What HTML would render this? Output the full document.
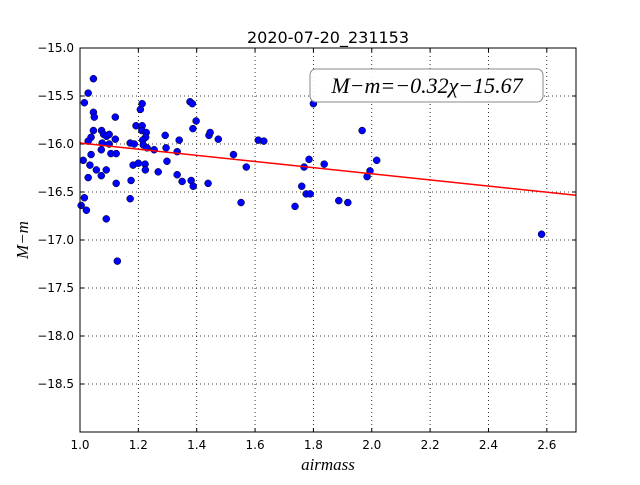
<!DOCTYPE html>
<html><head><meta charset="utf-8"><style>
body{margin:0;background:#fff;}
svg text{font-family:"DejaVu Sans","Liberation Sans",sans-serif;}
</style></head><body>
<svg id="chart" width="640" height="480" xmlns="http://www.w3.org/2000/svg">
<rect width="640" height="480" fill="#fff"/>
<text x="328" y="43" text-anchor="middle" font-size="16">2020-07-20_231153</text>
<g id="grid"></g>
<g id="ticks"></g>
<g id="marks"></g>
<rect x="80" y="48" width="496" height="384" fill="none" stroke="#000" stroke-width="1"/>
<g>
<rect x="310" y="69" width="233" height="33" rx="6" fill="#fff" fill-opacity="0.9" stroke="#888"/>
<text x="427" y="93" text-anchor="middle" style="font-family:'Liberation Serif',serif;font-style:italic;font-size:22px">M−m=−0.32χ−15.67</text>
</g>
<text x="328" y="470" text-anchor="middle" style="font-family:'Liberation Serif',serif;font-style:italic;font-size:17px">airmass</text>
<text x="28" y="240" text-anchor="middle" style="font-family:'Liberation Serif',serif;font-style:italic;font-size:17px" transform="rotate(-90 28 240)">M−m</text>
</svg>
<script>
const airmass=[1.046,1.028,1.015,1.046,1.049,1.121,1.046,1.038,1.028,1.074,1.081,1.091,1.100,1.076,1.100,1.121,1.011,1.038,1.073,1.106,1.124,1.034,1.056,1.090,1.073,1.028,1.124,1.015,1.004,1.022,1.090,1.128,1.172,1.175,1.182,1.200,1.223,1.224,1.172,1.186,1.192,1.213,1.212,1.227,1.225,1.215,1.217,1.230,1.207,1.213,1.254,1.268,1.292,1.295,1.298,1.333,1.340,1.333,1.350,1.377,1.385,1.398,1.387,1.381,1.388,1.439,1.442,1.446,1.474,1.526,1.570,1.552,1.800,1.611,1.630,1.967,1.785,1.768,1.837,1.760,1.775,1.789,1.737,1.887,1.918,2.017,1.994,1.984,2.582];
const mag=[-15.32,-15.47,-15.57,-15.67,-15.72,-15.72,-15.86,-15.93,-15.97,-15.86,-15.90,-15.92,-15.90,-15.99,-16.00,-15.95,-16.17,-16.11,-16.06,-16.10,-16.10,-16.22,-16.27,-16.27,-16.33,-16.35,-16.41,-16.56,-16.64,-16.69,-16.78,-17.22,-16.57,-16.38,-16.22,-16.20,-16.21,-16.27,-15.99,-16.00,-15.81,-15.81,-15.86,-15.88,-15.93,-15.96,-16.01,-16.04,-15.64,-15.58,-16.06,-16.29,-15.91,-16.04,-16.18,-16.08,-15.96,-16.32,-16.39,-15.56,-15.58,-15.76,-15.84,-16.38,-16.44,-16.41,-15.91,-15.88,-15.95,-16.11,-16.24,-16.61,-15.58,-15.96,-15.97,-15.86,-16.16,-16.24,-16.21,-16.44,-16.52,-16.52,-16.65,-16.59,-16.61,-16.17,-16.28,-16.34,-16.94];
const fitSlope=-0.32, fitIntercept=-15.67;
const xTicks=[1.0,1.2,1.4,1.6,1.8,2.0,2.2,2.4,2.6];
const yTicks=[-15.0,-15.5,-16.0,-16.5,-17.0,-17.5,-18.0,-18.5];
const xMin=1.0,xMax=2.7,yMin=-19.0,yMax=-15.0;
const L=80,R=576,T=48,B=432;
const sx=v=>L+(v-xMin)/(xMax-xMin)*(R-L);
const sy=v=>T+(yMax-v)/(yMax-yMin)*(B-T);
const NS="http://www.w3.org/2000/svg";
function mk(tag,attrs,parent){const e=document.createElementNS(NS,tag);for(const k in attrs)e.setAttribute(k,attrs[k]);parent.appendChild(e);return e;}
const grid=document.getElementById('grid'),ticks=document.getElementById('ticks'),marks=document.getElementById('marks');
xTicks.forEach(v=>{const x=sx(v);
 const g=mk('line',{x1:x,x2:x,y1:T,y2:B,stroke:'#000','stroke-dasharray':'1,3','stroke-width':0.8},grid);
 
 
 mk('line',{x1:x,x2:x,y1:B,y2:B-4,stroke:'#000'},ticks);
 mk('line',{x1:x,x2:x,y1:T,y2:T+4,stroke:'#000'},ticks);
 const t=mk('text',{x:x,y:B+17,'text-anchor':'middle','font-size':12},ticks);t.textContent=v.toFixed(1);
 
 
});
yTicks.forEach(v=>{const y=sy(v);
 const g=mk('line',{x1:L,x2:R,y1:y,y2:y,stroke:'#000','stroke-dasharray':'1,3','stroke-width':0.8},grid);
 
 
 mk('line',{x1:L,x2:L+4,y1:y,y2:y,stroke:'#000'},ticks);
 mk('line',{x1:R,x2:R-4,y1:y,y2:y,stroke:'#000'},ticks);
 const t=mk('text',{x:L-6,y:y+4,'text-anchor':'end','font-size':12},ticks);t.textContent=v.toFixed(1).replace('-','−');
 
 
});
airmass.forEach((a,i)=>{
 const c=mk('circle',{cx:sx(a),cy:sy(mag[i]),r:3.5,fill:'#0000ff',stroke:'#000','stroke-width':0.5},marks);
 
 
});
const fl=mk('line',{x1:sx(xMin),y1:sy(fitSlope*xMin+fitIntercept),x2:sx(xMax),y2:sy(fitSlope*xMax+fitIntercept),stroke:'#ff0000','stroke-width':1.5},marks);


</script>
</body></html>
